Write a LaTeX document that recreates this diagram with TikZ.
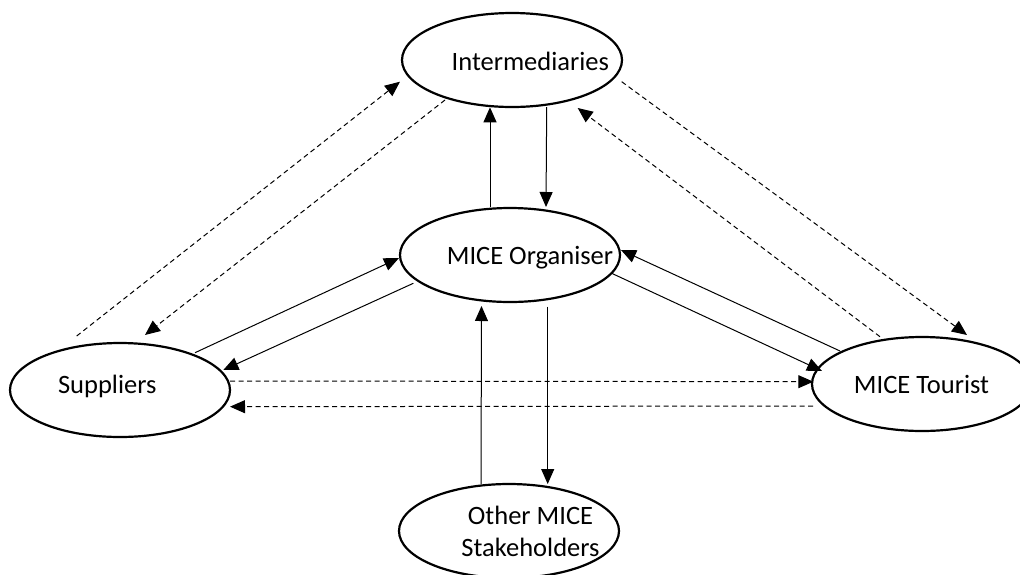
\documentclass[tikz,border=0pt]{standalone}
\usepackage{fontspec}
\setmainfont{Carlito}
\usetikzlibrary{shapes.geometric,arrows.meta,calc}
\begin{document}
\begin{tikzpicture}[x=1pt,y=-1pt,
  actor/.style={draw, ellipse, line width=2.2pt, minimum width=220pt,
                minimum height=94pt, inner sep=0pt},
  txt/.style={font=\fontsize{26.5}{32.7}\selectfont, inner sep=0pt},
  flow/.style={line width=1pt, -{Triangle[length=15pt,width=13pt]}},
  dflow/.style={flow, dash pattern=on 5pt off 3.5pt},
]
\useasboundingbox (0,0) rectangle (1020,574);
\clip (0,0) rectangle (1020,574);

% stakeholder ellipses
\node[actor] (int)  at (512,60)  {};
\node[actor] (org)  at (510,255) {};
\node[actor] (sup)  at (120,390) {};
\node[actor] (tour) at (922,384) {};
\node[actor] (stk)  at (509,531) {};

% their names
\node[txt, anchor=base] (intT)  at (530.3,70.7)  {Intermediaries};
\node[txt, anchor=base] (orgT)  at (530,264)     {MICE Organiser};
\node[txt, anchor=base] (supT)  at (107.3,393.3) {Suppliers};
\node[txt, anchor=base] (tourT) at (921.5,393.3) {MICE Tourist};
\node[txt, align=center] (stkT) at (530.5,531.5) {Other MICE\\Stakeholders};

% organiser <-> intermediaries / other stakeholders
\draw[flow] ($(org.center)+(-20,-48)$)    -- ($(int.center)+(-22,47.3)$);
\draw[flow] ($(int.center)+(34.7,47)$)    -- ($(org.center)+(36,-48)$);
\draw[flow] ($(stk.center)+(-28,-47)$)    -- ($(org.center)+(-28.5,51)$);
\draw[flow] ($(org.center)+(37.7,51.7)$)  -- ($(stk.center)+(38.7,-47)$);

% suppliers <-> intermediaries
\draw[dflow] ($(sup.center)+(-43.3,-54)$) -- ($(int.center)+(-112,21.7)$);
\draw[dflow] ($(int.center)+(-67,40)$)    -- ($(sup.center)+(25,-55)$);

% suppliers <-> organiser
\draw[flow] ($(sup.center)+(75,-37.3)$)   -- ($(org.center)+(-111,3)$);
\draw[flow] ($(org.center)+(-96.7,28.3)$) -- ($(sup.center)+(103.3,-20)$);

% suppliers <-> tourist
\draw[dflow] ($(sup.center)+(110,-9)$)    -- ($(tour.center)+(-108.7,-2.3)$);
\draw[dflow] ($(tour.center)+(-109,22)$)  -- ($(sup.center)+(110,16.7)$);

% tourist <-> organiser
\draw[flow] ($(tour.center)+(-82,-33)$)   -- ($(org.center)+(111,-5)$);
\draw[flow] ($(org.center)+(101.7,18.3)$) -- ($(tour.center)+(-100,-13)$);

% intermediaries <-> tourist
\draw[dflow] ($(int.center)+(109.7,21.7)$) -- ($(tour.center)+(45,-49)$);
\draw[dflow] ($(tour.center)+(-42,-47.3)$) -- ($(int.center)+(65.7,48)$);
\end{tikzpicture}
\end{document}
